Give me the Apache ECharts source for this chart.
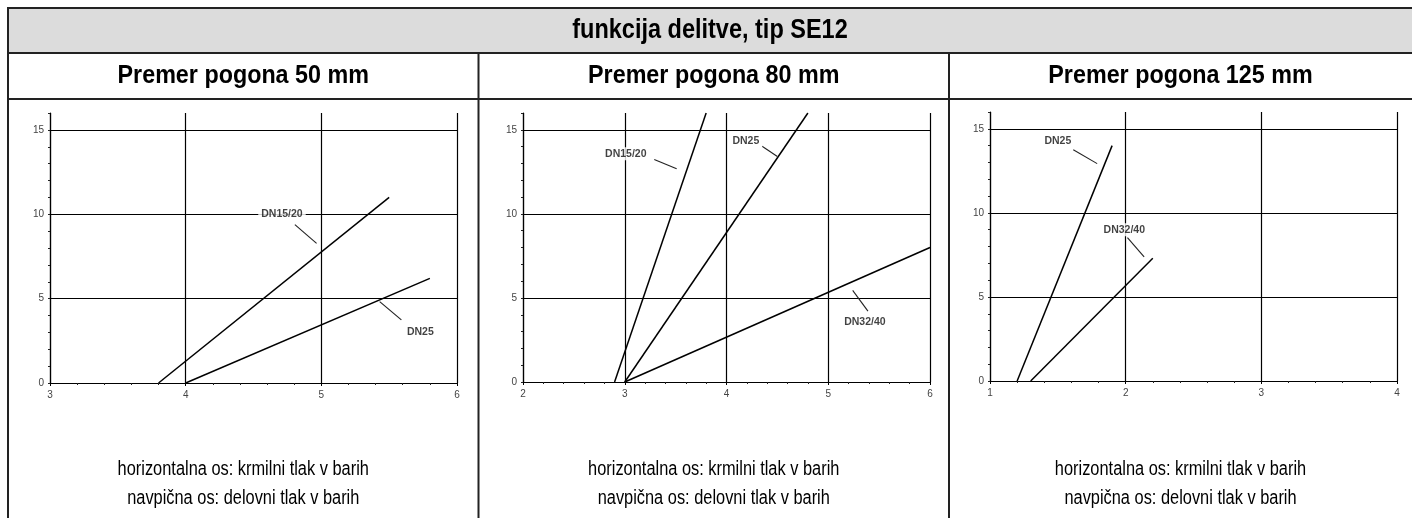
<!DOCTYPE html>
<html>
<head>
<meta charset="utf-8">
<script src="https://cdn.jsdelivr.net/npm/echarts@6/dist/echarts.min.js"></script>
<style>
html,body{margin:0;padding:0;background:#fff;}
#chart{width:1412px;height:518px;}
</style>
</head>
<body>
<div id="chart"></div>
<script>
// ---- texts ----
const mainTitle = 'funkcija delitve, tip SE12';
const panelTitles = ['Premer pogona 50 mm', 'Premer pogona 80 mm', 'Premer pogona 125 mm'];
const footLines = ['horizontalna os: krmilni tlak v barih', 'navpična os: delovni tlak v barih'];

// ---- axis ranges ----
const xRanges = [[3, 6], [2, 6], [1, 4]];
const yRange = [0, 16];
const yLabelStep = 5;

// ---- curves (x: krmilni tlak, y: delovni tlak) ----
const p50_DN1520 = [[3.8, 0], [5.5, 11]];
const p50_DN25 = [[4.0, 0], [5.8, 6.2]];
const p80_DN1520 = [[2.9, 0], [3.8, 16]];
const p80_DN25 = [[3.0, 0], [4.8, 16]];
const p80_DN3240 = [[3.0, 0], [6.0, 8.0]];
const p125_DN25 = [[1.2, 0], [1.9, 14]];
const p125_DN3240 = [[1.3, 0], [2.2, 7.3]];

// ---- annotations: [name, x, y] and leader segments ----
const p50_labels = [['DN15/20', 4.71, 10.0], ['DN25', 5.73, 3.0]];
const p50_leaders = [[[4.805, 9.39], [4.965, 8.27]], [[5.43, 4.82], [5.59, 3.74]]];
const p80_labels = [['DN15/20', 3.01, 13.57], ['DN25', 4.19, 14.32], ['DN32/40', 5.36, 3.57]];
const p80_leaders = [[[3.29, 13.23], [3.51, 12.68]], [[4.35, 14.02], [4.5, 13.41]], [[5.24, 5.45], [5.39, 4.22]]];
const p125_labels = [['DN25', 1.5, 14.25], ['DN32/40', 1.99, 9.0]];
const p125_leaders = [[[1.614, 13.76], [1.79, 12.93]], [[2.013, 8.53], [2.136, 7.38]]];

const panelCurves = [[p50_DN1520, p50_DN25], [p80_DN1520, p80_DN25, p80_DN3240], [p125_DN25, p125_DN3240]];
const panelLabels = [p50_labels, p80_labels, p125_labels];
const panelLeaders = [p50_leaders, p80_leaders, p125_leaders];

const FONT = '"Liberation Sans", Arial, sans-serif';

const grids = [
  {left: 50, top: 113, width: 407, height: 270},
  {left: 523, top: 113, width: 407, height: 269},
  {left: 990, top: 112, width: 407, height: 269}
];

const yCount = yRange[1] - yRange[0] + 1;
const ySplitColors = [];
for (let i = 0; i < yCount; i++) {
  ySplitColors.push((yRange[0] + i) % yLabelStep === 0 && i !== 0 ? '#000' : 'rgba(0,0,0,0)');
}

const xAxes = xRanges.map((r, i) => ({
  type: 'value', gridIndex: i, min: r[0], max: r[1], interval: 1,
  axisLine: {show: true, onZero: false, lineStyle: {color: '#000', width: 1.2}},
  axisTick: {show: true, length: 3, lineStyle: {color: '#000'}},
  minorTick: {show: true, splitNumber: 5, length: 2, lineStyle: {color: '#222'}},
  splitLine: {show: true, lineStyle: {color: '#000', width: 1.2}},
  axisLabel: {color: '#444', fontSize: 10, fontFamily: FONT, margin: 7}
}));
const yAxes = xRanges.map((r, i) => ({
  type: 'value', gridIndex: i, min: yRange[0], max: yRange[1], interval: 1,
  axisLine: {show: true, onZero: false, lineStyle: {color: '#000', width: 1.2}},
  axisTick: {show: true, length: 2, lineStyle: {color: '#222'}},
  splitLine: {show: true, lineStyle: {color: ySplitColors, width: 1.2}},
  axisLabel: {color: '#444', fontSize: 10, fontFamily: FONT, margin: 6,
    formatter: v => (v % yLabelStep === 0 && v < yRange[1]) ? String(v) : ''}
}));

const series = [];
panelCurves.forEach((curves, pi) => {
  curves.forEach(c => {
    series.push({type: 'line', xAxisIndex: pi, yAxisIndex: pi, data: c, symbol: 'none',
      silent: true, animation: false, lineStyle: {color: '#000', width: 1.5}, z: 3});
  });
  panelLeaders[pi].forEach(seg => {
    series.push({type: 'line', xAxisIndex: pi, yAxisIndex: pi, data: seg, symbol: 'none',
      silent: true, animation: false, lineStyle: {color: '#222', width: 1.1}, z: 3});
  });
  series.push({type: 'scatter', xAxisIndex: pi, yAxisIndex: pi, symbolSize: 0, silent: true,
    animation: false, z: 5,
    data: panelLabels[pi].map(l => ({name: l[0], value: [l[1], l[2]]})),
    label: {show: true, position: 'inside', formatter: p => p.name, color: '#111',
      fontFamily: FONT, fontWeight: 'bold', fontSize: 10.5, backgroundColor: '#fff', padding: [1, 3]}
  });
});

// ---- table frame ----
const colX = [8, 478.5, 949, 1412];
const graphics = [
  {type: 'rect', shape: {x: 8, y: 8, width: 1404, height: 45}, style: {fill: '#dcdcdc'}, z: 0, silent: true},
  {type: 'line', shape: {x1: 7, y1: 8, x2: 1412, y2: 8}, style: {stroke: '#222', lineWidth: 2}, silent: true},
  {type: 'line', shape: {x1: 7, y1: 53, x2: 1412, y2: 53}, style: {stroke: '#222', lineWidth: 2}, silent: true},
  {type: 'line', shape: {x1: 7, y1: 99, x2: 1412, y2: 99}, style: {stroke: '#222', lineWidth: 2}, silent: true},
  {type: 'line', shape: {x1: 8, y1: 7, x2: 8, y2: 518}, style: {stroke: '#222', lineWidth: 2}, silent: true},
  {type: 'line', shape: {x1: colX[1], y1: 53, x2: colX[1], y2: 518}, style: {stroke: '#222', lineWidth: 2}, silent: true},
  {type: 'line', shape: {x1: colX[2], y1: 53, x2: colX[2], y2: 518}, style: {stroke: '#222', lineWidth: 2}, silent: true},
  {type: 'text', x: (colX[0] + colX[3]) / 2, y: 31, scaleX: 0.87, silent: true,
    style: {text: mainTitle, font: 'bold 27px ' + FONT, fill: '#000', align: 'center', verticalAlign: 'middle'}}
];
panelTitles.forEach((t, i) => {
  const cx = (colX[i] + colX[i + 1]) / 2;
  graphics.push({type: 'text', x: cx, y: 76, scaleX: 0.88, silent: true,
    style: {text: t, font: 'bold 26.5px ' + FONT, fill: '#000', align: 'center', verticalAlign: 'middle'}});
  footLines.forEach((f, j) => {
    graphics.push({type: 'text', x: cx, y: 470 + j * 29, scaleX: 0.84, silent: true,
      style: {text: f, font: '19.5px ' + FONT, fill: '#000', align: 'center', verticalAlign: 'middle'}});
  });
});

const chart = echarts.init(document.getElementById('chart'), null, {renderer: 'canvas'});
chart.setOption({
  animation: false,
  backgroundColor: '#fff',
  grid: grids,
  xAxis: xAxes,
  yAxis: yAxes,
  series: series,
  graphic: graphics
});
</script>
</body>
</html>
